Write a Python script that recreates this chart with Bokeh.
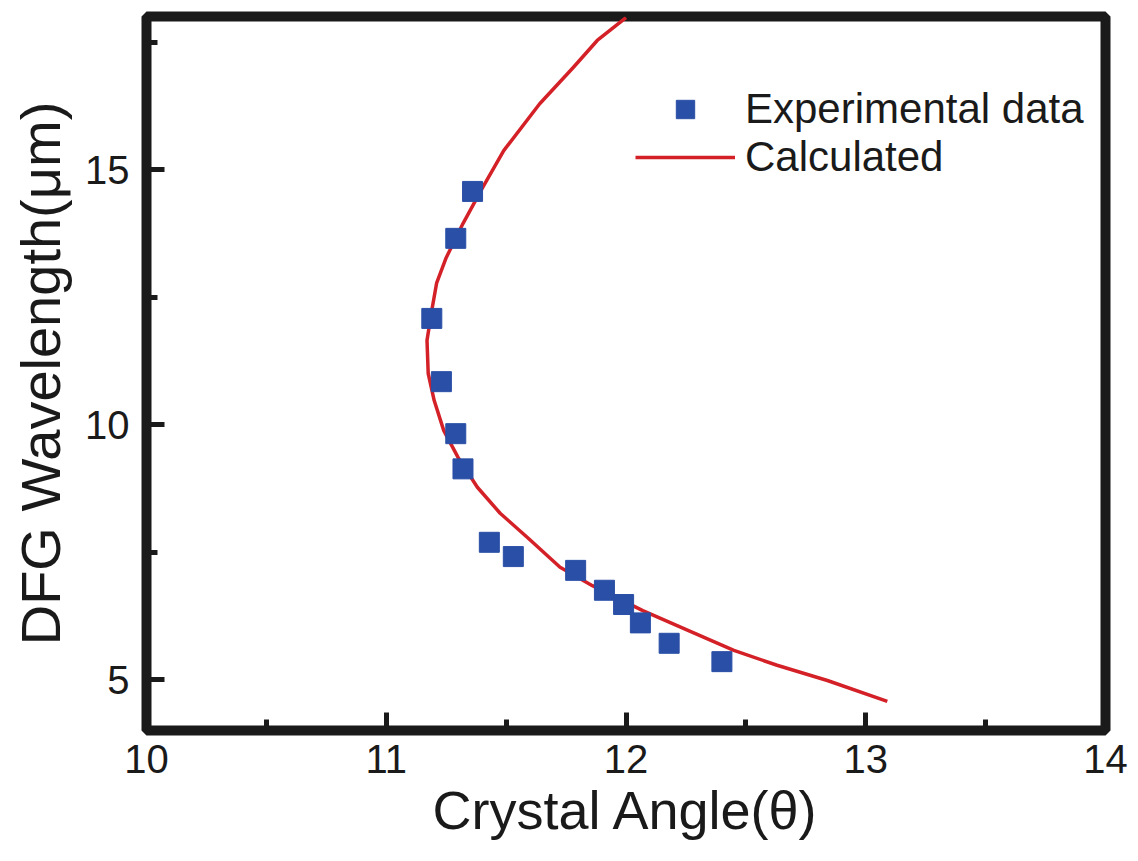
from bokeh.plotting import figure
from bokeh.models import Legend, LegendItem, FixedTicker, Range1d
from bokeh.embed import file_html
from bokeh.resources import INLINE

# Experimental data (crystal angle in degrees, DFG wavelength in um)
exp_angle = [11.36, 11.29, 11.19, 11.23, 11.29, 11.32, 11.43, 11.53, 11.79, 11.91, 11.99, 12.06, 12.18, 12.40]
exp_wl = [14.57, 13.65, 12.08, 10.84, 9.82, 9.13, 7.69, 7.41, 7.14, 6.75, 6.47, 6.11, 5.71, 5.35]

# Calculated tuning curve
calc_angle = [12.00, 11.88, 11.78, 11.64, 11.49, 11.40, 11.32, 11.25, 11.21, 11.19, 11.17, 11.175,
              11.20, 11.24, 11.30, 11.38, 11.475, 11.59, 11.725, 11.86, 12.07, 12.28, 12.45, 12.63,
              12.84, 13.09]
calc_wl = [17.98, 17.53, 17.00, 16.29, 15.37, 14.63, 13.94, 13.27, 12.77, 12.24, 11.65, 11.00,
           10.47, 9.88, 9.35, 8.77, 8.26, 7.78, 7.20, 6.84, 6.35, 5.92, 5.57, 5.28,
           4.98, 4.57]

x_ticks = [10, 11, 12, 13, 14]
y_ticks = [5, 10, 15]

FONT = "Liberation Sans"

p = figure(width=1138, height=861, output_backend="svg", toolbar_location=None,
           x_range=Range1d(10, 14), y_range=Range1d(4, 18),
           min_border_left=146, min_border_right=33, min_border_top=16, min_border_bottom=131)

p.outline_line_color = "#1a1a1a"
p.outline_line_width = 10
p.xgrid.visible = False
p.ygrid.visible = False
p.background_fill_color = "white"
p.border_fill_color = "white"

for ax, ticks, minors in ((p.xaxis[0], x_ticks, [10.5, 11.5, 12.5, 13.5]),
                          (p.yaxis[0], y_ticks, [7.5, 12.5, 17.5])):
    ax.ticker = FixedTicker(ticks=ticks, minor_ticks=minors)
    ax.axis_line_color = None
    ax.major_tick_in = 18
    ax.major_tick_out = 0
    ax.minor_tick_in = 11
    ax.minor_tick_out = 0
    ax.major_tick_line_width = 5
    ax.minor_tick_line_width = 5
    ax.major_tick_line_color = "#1a1a1a"
    ax.minor_tick_line_color = "#1a1a1a"
    ax.major_label_text_font = FONT
    ax.major_label_text_font_size = "40px"
    ax.major_label_text_color = "#1a1a1a"
    ax.axis_label_text_font = FONT
    ax.axis_label_text_font_style = "normal"
    ax.axis_label_text_color = "#1a1a1a"

p.xaxis.axis_label = "Crystal Angle(θ)"
p.yaxis.axis_label = "DFG Wavelength(μm)"
p.xaxis.axis_label_text_font_size = "54px"
p.yaxis.axis_label_text_font_size = "56px"
p.xaxis.major_label_standoff = 14
p.yaxis.major_label_standoff = 17
p.xaxis.axis_label_standoff = 4
p.yaxis.axis_label_standoff = 10

line = p.line(calc_angle, calc_wl, line_color="#d42128", line_width=3.5)
pts = p.scatter(exp_angle, exp_wl, marker="square", size=20, fill_color="#2a4fa6", line_color="#2a4fa6")

legend = Legend(items=[LegendItem(label="Experimental data", renderers=[pts]),
                       LegendItem(label="Calculated", renderers=[line])],
                location=(489, 549), glyph_width=100, glyph_height=46, label_height=46,
                label_standoff=10, spacing=0, padding=0, margin=0,
                label_text_font=FONT, label_text_font_size="42px", label_text_color="#1a1a1a",
                border_line_alpha=0, background_fill_alpha=0)
p.add_layout(legend)

open("out.html", "w").write(file_html(p, INLINE))
